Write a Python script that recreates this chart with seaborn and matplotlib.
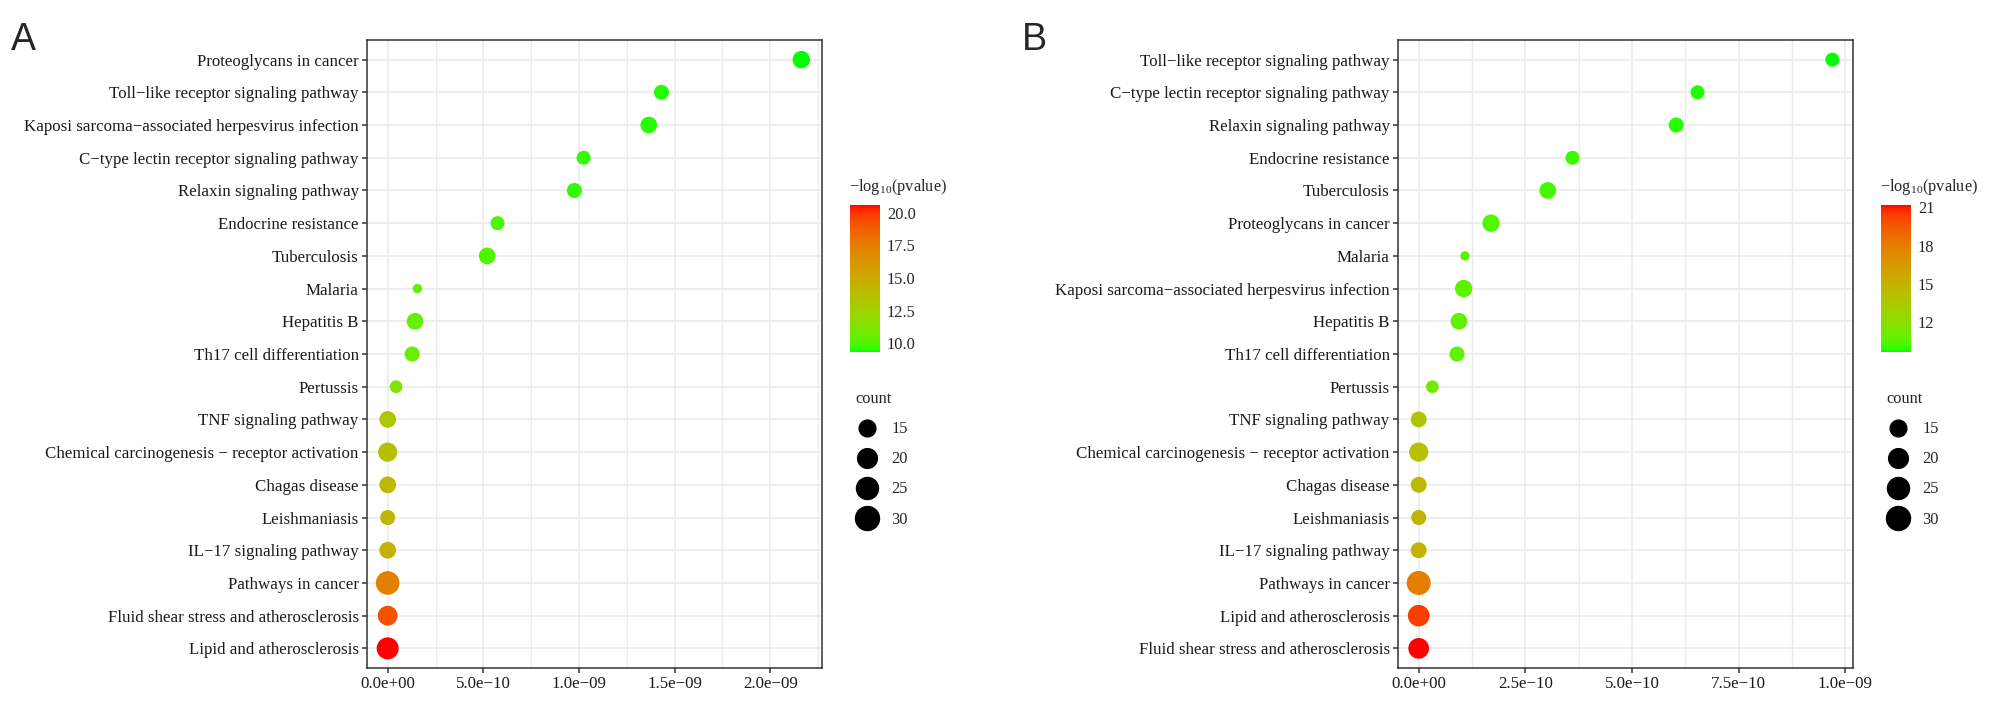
import numpy as np
import matplotlib
matplotlib.use('Agg')
import matplotlib.pyplot as plt
import seaborn as sns
from matplotlib.colors import ListedColormap, Normalize
from matplotlib.cm import ScalarMappable
from matplotlib.lines import Line2D
from matplotlib.ticker import MultipleLocator, AutoMinorLocator, FuncFormatter, FormatStrFormatter

# ---- data ----
terms_a = ['Proteoglycans in cancer', 'Toll−like receptor signaling pathway',
           'Kaposi sarcoma−associated herpesvirus infection', 'C−type lectin receptor signaling pathway',
           'Relaxin signaling pathway', 'Endocrine resistance', 'Tuberculosis', 'Malaria', 'Hepatitis B',
           'Th17 cell differentiation', 'Pertussis', 'TNF signaling pathway',
           'Chemical carcinogenesis − receptor activation', 'Chagas disease', 'Leishmaniasis',
           'IL−17 signaling pathway', 'Pathways in cancer', 'Fluid shear stress and atherosclerosis',
           'Lipid and atherosclerosis']
padj_a = [2.162e-9, 1.431e-9, 1.365e-9, 1.024e-9, 0.976e-9, 0.574e-9, 0.520e-9, 0.155e-9, 0.143e-9,
          0.128e-9, 0.044e-9, 6.0e-14, 4.0e-14, 2.5e-14, 1.6e-14, 1.2e-14, 1.0e-17, 1.0e-19, 2.6e-20]
logp_a = [9.36, 9.53, 9.55, 9.68, 9.70, 9.93, 9.97, 10.50, 10.52, 10.60, 11.2,
          13.5, 13.7, 14.1, 14.4, 14.6, 17.3, 19.3, 20.59]
count_a = [16, 13, 15, 12, 13, 12, 15, 10, 15, 13, 11, 15, 19, 15, 13, 15, 29, 20, 25]

terms_b = ['Toll−like receptor signaling pathway', 'C−type lectin receptor signaling pathway',
           'Relaxin signaling pathway', 'Endocrine resistance', 'Tuberculosis', 'Proteoglycans in cancer',
           'Malaria', 'Kaposi sarcoma−associated herpesvirus infection', 'Hepatitis B',
           'Th17 cell differentiation', 'Pertussis', 'TNF signaling pathway',
           'Chemical carcinogenesis − receptor activation', 'Chagas disease', 'Leishmaniasis',
           'IL−17 signaling pathway', 'Pathways in cancer', 'Lipid and atherosclerosis',
           'Fluid shear stress and atherosclerosis']
padj_b = [0.9695e-9, 0.6536e-9, 0.6036e-9, 0.3604e-9, 0.3025e-9, 0.1696e-9, 0.1086e-9, 0.1055e-9,
          0.0945e-9, 0.0899e-9, 0.032e-9, 3.0e-14, 2.0e-14, 1.5e-14, 1.2e-14, 1.0e-14, 2.0e-18,
          1.0e-20, 1.3e-21]
logp_b = [9.70, 9.87, 9.91, 10.13, 10.21, 10.46, 10.65, 10.67, 10.71, 10.74, 11.2,
          13.8, 14.2, 14.6, 14.8, 15.0, 18.0, 20.3, 21.18]
count_b = [12, 12, 13, 12, 15, 16, 10, 16, 15, 13, 11, 14, 19, 14, 13, 14, 30, 24, 22]

size_breaks = [15, 20, 25, 30]


# ---- green -> red gradient interpolated in CIELAB (like ggplot) ----
WHITE = np.array([0.95047, 1.0, 1.08883])
M = np.array([[0.4124, 0.3576, 0.1805], [0.2126, 0.7152, 0.0722], [0.0193, 0.1192, 0.9505]])


def to_lab(rgb):
    c = np.where(rgb <= 0.04045, rgb / 12.92, ((rgb + 0.055) / 1.055) ** 2.4)
    t = (M @ c) / WHITE
    f = np.where(t > 0.008856, np.cbrt(t), 7.787 * t + 16 / 116)
    return np.array([116 * f[1] - 16, 500 * (f[0] - f[1]), 200 * (f[1] - f[2])])


def from_lab(lab):
    fy = (lab[0] + 16) / 116
    f = np.array([fy + lab[1] / 500, fy, fy - lab[2] / 200])
    t = np.where(f ** 3 > 0.008856, f ** 3, (f - 16 / 116) / 7.787) * WHITE
    c = np.linalg.solve(M, t)
    c = np.where(c <= 0.0031308, 12.92 * c, 1.055 * np.clip(c, 0, None) ** (1 / 2.4) - 0.055)
    return np.clip(c, 0, 1)


lo, hi = to_lab(np.array([0.0, 1.0, 0.0])), to_lab(np.array([1.0, 0.0, 0.0]))
cmap = ListedColormap([from_lab(lo + (hi - lo) * k) for k in np.linspace(0, 1, 256)])


def point_area(c):
    # ggplot-like area scale, returned in points^2
    d_px = 9.4 + 3.265 * np.sqrt(max(c - 10, 0))
    return (d_px * 0.72) ** 2


sns.set_theme(style='white')
plt.rcParams['font.family'] = ['Liberation Serif', 'DejaVu Serif']
plt.rcParams['mathtext.fontset'] = 'custom'
plt.rcParams['mathtext.rm'] = 'Liberation Serif'

fig = plt.figure(figsize=(20, 7.12), dpi=100)
W, H = 2000, 712


def sci(v, pos):
    return ('%.1e' % v).replace('-', '−')


def panel(left, terms, padj, logp, count, step, cb_step, cb_fmt, letter, letter_x):
    ax = fig.add_axes([left / W, 44 / H, 455 / W, 628 / H])
    norm = Normalize(min(logp), max(logp))
    sizes = {c: point_area(c) for c in set(count)}
    sns.scatterplot(x=padj, y=terms, hue=logp, palette=cmap, hue_norm=norm, size=count, sizes=sizes,
                    linewidth=0, edgecolor='none', legend=False, ax=ax, zorder=3)
    ax.set_ylim(len(terms) - 0.4, -0.6)
    ax.margins(x=0.05)
    ax.xaxis.set_major_locator(MultipleLocator(step))
    ax.xaxis.set_minor_locator(AutoMinorLocator(2))
    ax.xaxis.set_major_formatter(FuncFormatter(sci))
    ax.grid(True, which='major', color='#EBEBEB', lw=1.2)
    ax.grid(True, which='minor', axis='x', color='#EBEBEB', lw=1.0)
    ax.set_axisbelow(True)
    for s in ax.spines.values():
        s.set_color('#333333')
        s.set_linewidth(1.1)
    ax.tick_params(axis='both', which='major', length=3.5, width=1.1, color='#333333',
                   labelsize=12.2, labelcolor='#1a1a1a', pad=2.5, left=True, bottom=True)
    ax.tick_params(axis='x', which='minor', length=0)
    ax.set_xlabel('')
    ax.set_ylabel('')

    # colourbar
    right = left + 455
    cax = fig.add_axes([(right + 28) / W, (H - 351.7) / H, 30 / W, 146.7 / H])
    cb = fig.colorbar(ScalarMappable(norm=norm, cmap=cmap), cax=cax)
    cb.outline.set_visible(False)
    cax.yaxis.set_major_locator(MultipleLocator(cb_step))
    cax.yaxis.set_major_formatter(FormatStrFormatter(cb_fmt))
    cax.tick_params(left=True, right=True, labelleft=False, labelright=True, direction='in',
                    color='white', length=5, width=1, labelsize=11.8, pad=5)
    fig.text((right + 27) / W, (H - 187) / H, '−log$_{10}$(pvalue)', fontsize=11.8, va='center')

    # size legend
    handles = [Line2D([], [], ls='none', marker='o', color='black', markersize=np.sqrt(point_area(b)))
               for b in size_breaks]
    fig.legend(handles, [str(b) for b in size_breaks], title='count', loc='upper left',
               bbox_to_anchor=((right + 25) / W, (H - 383) / H), frameon=False, fontsize=11.8,
               title_fontsize=11.8, labelspacing=0.86, handletextpad=0.8, borderpad=0,
               handlelength=1.4, alignment='left')

    fig.text(letter_x / W, (H - 40) / H, letter, fontsize=27, family='Liberation Sans', va='center')
    return ax


panel(367, terms_a, padj_a, logp_a, count_a, 5e-10, 2.5, '%.1f', 'A', 11)
panel(1398, terms_b, padj_b, logp_b, count_b, 2.5e-10, 3, '%d', 'B', 1022)

fig.savefig('out.png', dpi=100)
